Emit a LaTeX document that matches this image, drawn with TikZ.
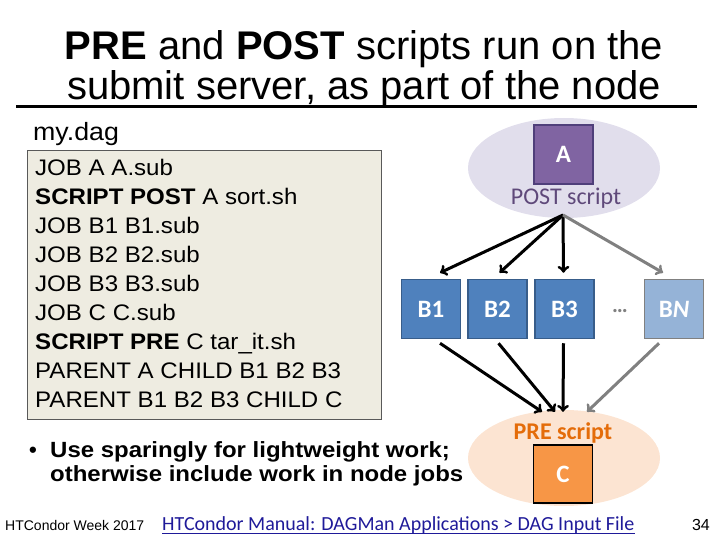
\documentclass[tikz,border=0pt]{standalone}
\usepackage{fontspec}
\setmainfont{Liberation Sans}
\newfontfamily\calfont{Carlito}
\newfontfamily\codefont[FakeStretch=1.07]{Liberation Sans}
\newfontfamily\notefont[FakeStretch=1.09]{Liberation Sans}
\usetikzlibrary{shapes.geometric}
\definecolor{codebg}{HTML}{EEECE1}
\definecolor{postbg}{HTML}{E1DEEC}
\definecolor{postfill}{HTML}{8064A2}
\definecolor{postline}{HTML}{4F3F7A}
\definecolor{posttext}{HTML}{5F497A}
\definecolor{jobfill}{HTML}{4F81BD}
\definecolor{jobline}{HTML}{385D8A}
\definecolor{jobfade}{HTML}{95B3D7}
\definecolor{prebg}{HTML}{FCE4D2}
\definecolor{prefill}{HTML}{F79646}
\definecolor{pretext}{HTML}{E46C0A}
\definecolor{linkblue}{HTML}{1F1A99}
\begin{document}
\begin{tikzpicture}[x=1pt,y=-1pt,
  jobbox/.style={draw=jobline,line width=1.5pt,fill=jobfill,minimum width=59pt,minimum height=59pt,
    inner sep=0pt,text=white,font=\calfont\fontsize{25}{25}\selectfont\bfseries},
  arr/.style={->,line width=3pt}]
\useasboundingbox (0,0) rectangle (720,540);
% title
\node[font=\fontsize{40}{40}\selectfont,anchor=base] (title1) at (364,60)
  {\textbf{PRE} and \textbf{POST} scripts run on the};
\node[font=\fontsize{40}{40}\selectfont,anchor=base] (title2) at (364,100)
  {submit server, as part of the node};
\draw[line width=3pt] (16,107) -- (697,107);
% the dag file
\node[anchor=base west,font=\codefont\fontsize{25}{25}\selectfont,inner sep=0pt] (dagname) at (33,141) {my.dag};
\node[draw=black!65,line width=1pt,fill=codebg,anchor=north west,minimum width=354pt,minimum height=269pt] (dagbox) at (27,150) {};
\foreach \txt [count=\i] in {JOB A A.sub,{\textbf{SCRIPT POST} A sort.sh},JOB B1 B1.sub,JOB B2 B2.sub,
    JOB B3 B3.sub,JOB C C.sub,{\textbf{SCRIPT PRE} C tar\_it.sh},PARENT A CHILD B1 B2 B3,PARENT B1 B2 B3 CHILD C}
  \node[anchor=base west,inner sep=0pt,font=\codefont\fontsize{22.5}{22.5}\selectfont] (line\i) at (35,{176+28.9*(\i-1)}) {\txt};
% POST part
\node[ellipse,fill=postbg,minimum width=192pt,minimum height=100pt] (postarea) at (564,168) {};
\node[draw=postline,line width=1.5pt,fill=postfill,minimum width=59pt,minimum height=59pt,inner sep=0pt,
  text=white,font=\calfont\fontsize{25}{25}\selectfont\bfseries] (A) at (563.5,154.5) {A};
\node[text=posttext,font=\calfont\fontsize{24}{24}\selectfont] (post) at (566,198) {POST script};
\coordinate (fork) at (563,215);
% the B jobs
\node[jobbox] (B1) at (431,309) {B1};
\node[jobbox] (B2) at (497.5,309) {B2};
\node[jobbox] (B3) at (564.5,309) {B3};
\node[jobbox,fill=jobfade,draw=black!50] (BN) at (674,309) {B\textit{N}};
\node[text=black!50,font=\calfont\fontsize{22}{22}\selectfont\bfseries] (dots) at (620,311) {\dots};
% PRE part
\node[ellipse,fill=prebg,minimum width=192pt,minimum height=96pt] (prearea) at (564,458) {};
\node[text=pretext,font=\calfont\fontsize{24}{24}\selectfont\bfseries] (pre) at (563,433) {PRE script};
\node[draw=black,line width=1.5pt,fill=prefill,minimum width=59pt,minimum height=58pt,inner sep=0pt,
  text=white,font=\calfont\fontsize{25}{25}\selectfont\bfseries] (C) at (563,474) {C};
% arrows
\draw[arr] (fork) -- ([xshift=9pt,yshift=6pt]B1.north);
\draw[arr] (fork) -- ([xshift=2pt,yshift=6pt]B2.north);
\draw[arr] (fork) -- ([xshift=-1pt,yshift=6pt]B3.north);
\draw[arr,black!50] (fork) -- ([xshift=-11pt,yshift=6pt]BN.north);
\draw[arr] ([xshift=9pt,yshift=-4pt]B1.south) -- ([xshift=-22pt,yshift=-2pt]prearea.north);
\draw[arr] ([xshift=1pt,yshift=-4pt]B2.south) -- ([xshift=-9pt,yshift=-2pt]prearea.north);
\draw[arr] ([xshift=-1pt,yshift=-4pt]B3.south) -- ([xshift=-1pt,yshift=-2pt]prearea.north);
\draw[arr,black!50] ([xshift=-15pt,yshift=-4pt]BN.south) -- ([xshift=23pt,yshift=-2pt]prearea.north);
% note
\node[anchor=base west,inner sep=0pt,font=\fontsize{22}{22}\selectfont\bfseries] (bullet) at (29,457) {\textbullet};
\node[anchor=base west,inner sep=0pt,font=\notefont\fontsize{22}{22}\selectfont\bfseries] (note1) at (50,457)
  {Use sparingly for lightweight work;};
\node[anchor=base west,inner sep=0pt,font=\notefont\fontsize{22}{22}\selectfont\bfseries] (note2) at (50,481)
  {otherwise include work in node jobs};
% footer
\node[anchor=base west,inner sep=0pt,font=\fontsize{14}{14}\selectfont] (week) at (5,530) {HTCondor Week 2017};
\node[anchor=base west,inner sep=0pt,text=linkblue,font=\calfont\fontsize{20}{20}\selectfont] (manual) at (162,530)
  {HTCondor Manual: DAGMan Applications > DAG Input File};
\draw[linkblue,line width=1pt] ([yshift=-3pt]manual.base west) -- ([yshift=-3pt]manual.base east);
\node[anchor=base east,inner sep=0pt,font=\fontsize{16}{16}\selectfont] (page) at (710,530) {34};
\end{tikzpicture}
\end{document}
